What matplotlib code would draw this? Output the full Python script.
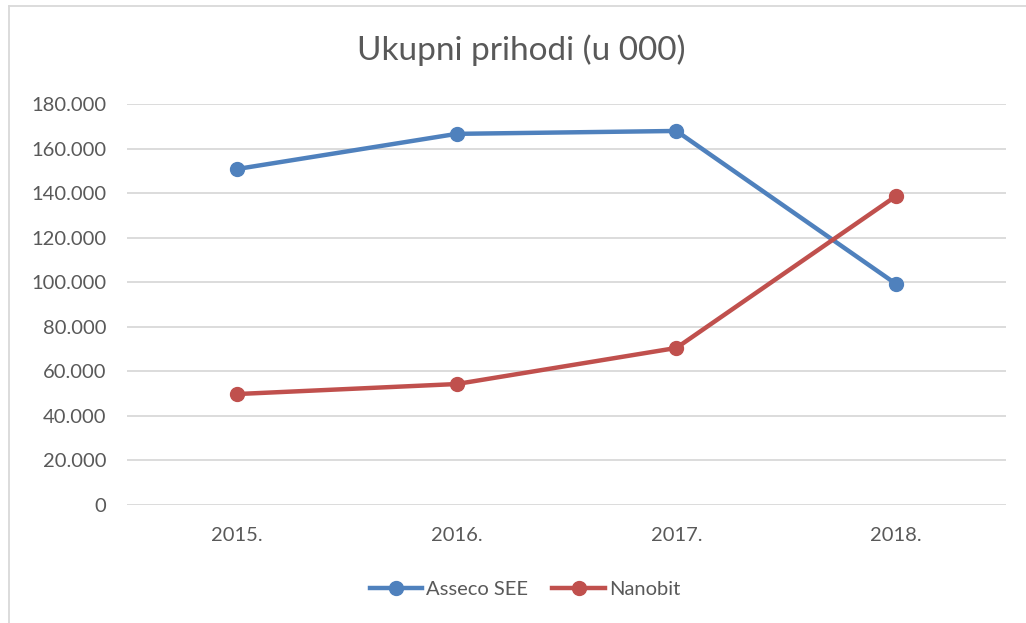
import matplotlib.pyplot as plt
from matplotlib.ticker import FuncFormatter
from matplotlib.lines import Line2D

years = ['2015.', '2016.', '2017.', '2018.']
asseco = [150800, 166600, 167900, 99200]
nanobit = [49800, 54300, 70500, 138700]

blue = '#4f81bd'
red = '#c0504d'
txt = '#595959'
grid = '#d9d9d9'

plt.rcParams['font.family'] = ['Lato', 'DejaVu Sans']

fig = plt.figure(figsize=(10.26, 6.23), dpi=100)
W, H = 1026, 623
ax = fig.add_axes([127 / W, (H - 505) / H, (1006 - 127) / W, (505 - 104) / H])

x = range(len(years))
ax.plot(x, asseco, color=blue, lw=3.2, marker='o', ms=10, solid_capstyle='round')
ax.plot(x, nanobit, color=red, lw=3.2, marker='o', ms=10, solid_capstyle='round')

ax.set_xlim(-0.5, 3.5)
ax.set_ylim(0, 180000)
ax.set_yticks(range(0, 180001, 20000))
ax.yaxis.set_major_formatter(FuncFormatter(lambda v, p: '0' if v == 0 else f'{int(v):,}'.replace(',', '.')))
ax.set_xticks(list(x))
ax.set_xticklabels(years)
ax.grid(axis='y', color=grid, lw=1.3)
ax.set_axisbelow(True)
for s in ax.spines.values():
    s.set_visible(False)
ax.tick_params(length=0, labelsize=14.5, colors=txt)
ax.tick_params(axis='y', pad=15)
ax.tick_params(axis='x', pad=16)

fig.text(521 / W, 1 - 50 / H, 'Ukupni prihodi (u 000)', ha='center', va='center',
         fontsize=24, color=txt)

handles = [Line2D([], [], color=blue, lw=3.2, marker='o', ms=10),
           Line2D([], [], color=red, lw=3.2, marker='o', ms=10)]
fig.legend(handles, ['Asseco SEE', 'Nanobit'], loc='center', bbox_to_anchor=(525 / W, 1 - 589 / H),
           ncol=2, frameon=False, fontsize=14.5, labelcolor=txt, handlelength=2.6,
           columnspacing=1.2, handletextpad=0.2)

# chart area border (left and top visible)
fig.add_artist(Line2D([9 / W, 9 / W], [0, 1 - 6 / H], color=grid, lw=1.3, transform=fig.transFigure))
fig.add_artist(Line2D([9 / W, 1], [1 - 6 / H, 1 - 6 / H], color=grid, lw=1.3, transform=fig.transFigure))

fig.savefig('out.png', dpi=100)
